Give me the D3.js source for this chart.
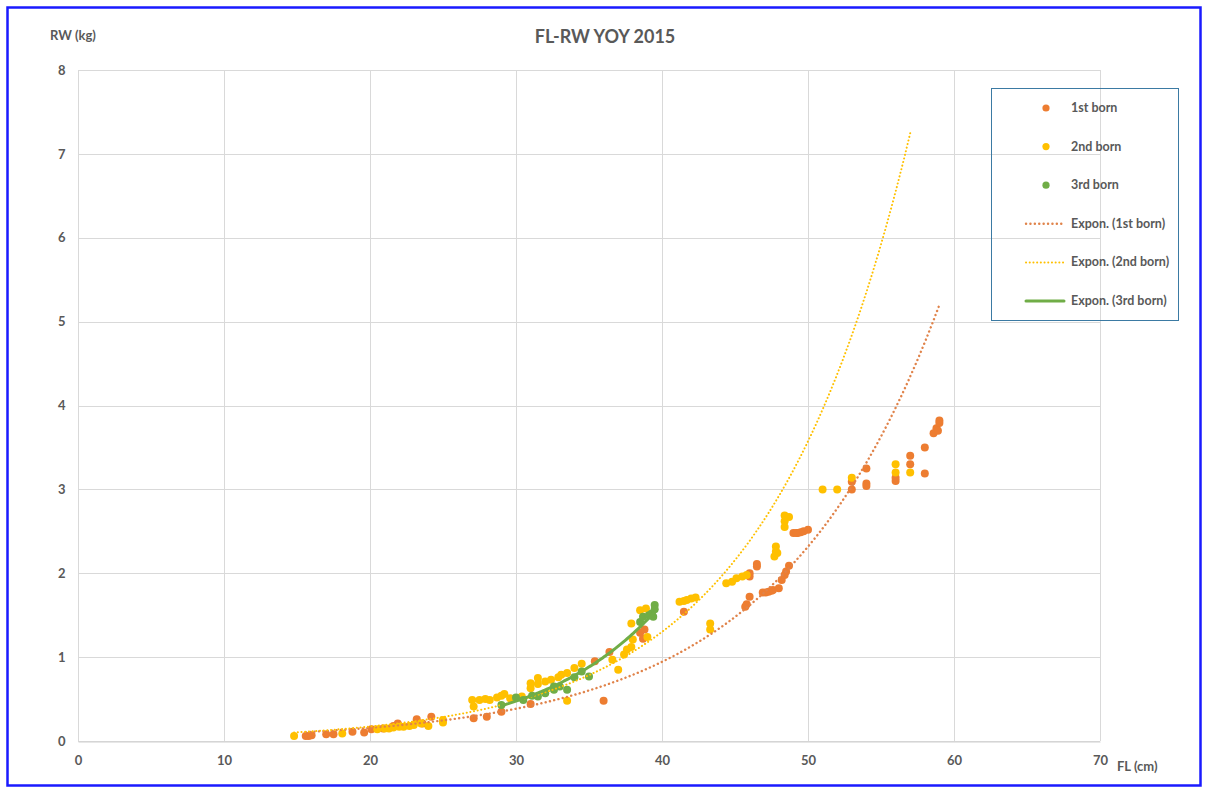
<!DOCTYPE html>
<html>
<head>
<meta charset="utf-8">
<script src="https://cdn.jsdelivr.net/npm/d3@7"></script>
<style>
  body { margin: 0; background: #fff; }
  svg text { font-family: Lato, "Open Sans", sans-serif; fill: #595959; font-weight: bold; }
</style>
</head>
<body>
<div class="js-chart"></div>
<script>
(function() {
  'use strict';

  /* ------------------------------------------------------------ *\
      Data: [FL (cm), RW (kg)]
  \* ------------------------------------------------------------ */

  var firstBorn = [
    [15.6, 0.06], [15.8, 0.06], [16.0, 0.07], [17.0, 0.08], [17.5, 0.08],
    [18.8, 0.11], [19.6, 0.10], [20.1, 0.14], [20.9, 0.15], [21.6, 0.18],
    [21.9, 0.21], [23.2, 0.26], [23.6, 0.21], [24.2, 0.29], [27.1, 0.27],
    [28.0, 0.29], [29.0, 0.35], [31.0, 0.44], [36.0, 0.48], [35.4, 0.95],
    [36.4, 1.06], [38.5, 1.29], [38.7, 1.22], [38.8, 1.33], [41.5, 1.54],
    [45.7, 1.60], [45.8, 1.63], [46.0, 1.72], [46.0, 1.96], [46.0, 2.00],
    [46.5, 2.08], [46.5, 2.11], [46.9, 1.77], [47.1, 1.77], [47.3, 1.78],
    [47.5, 1.79], [47.6, 1.80], [48.0, 1.82], [48.2, 1.92], [48.4, 1.98],
    [48.5, 2.02], [48.7, 2.09], [49.0, 2.48], [49.2, 2.48], [49.3, 2.48],
    [49.5, 2.49], [49.7, 2.50], [50.0, 2.52], [53.0, 3.00], [53.0, 3.09],
    [54.0, 3.25], [54.0, 3.07], [54.0, 3.04], [56.0, 3.10], [56.0, 3.14],
    [57.0, 3.30], [57.0, 3.40], [58.0, 3.19], [58.0, 3.50], [58.6, 3.67],
    [58.8, 3.73], [59.0, 3.79], [59.0, 3.82], [58.9, 3.70]
  ];

  var secondBorn = [
    [14.8, 0.06], [18.1, 0.09], [20.5, 0.14], [21.0, 0.15], [21.3, 0.15],
    [21.6, 0.16], [22.0, 0.17], [22.3, 0.17], [22.7, 0.18], [23.0, 0.19],
    [23.5, 0.21], [24.0, 0.18], [25.0, 0.25], [25.0, 0.22], [27.0, 0.49],
    [27.1, 0.41], [27.5, 0.49], [27.9, 0.50], [28.2, 0.49], [28.7, 0.52],
    [29.0, 0.54], [29.2, 0.56], [29.6, 0.51], [30.4, 0.53], [31.0, 0.69],
    [31.0, 0.63], [31.5, 0.75], [31.5, 0.68], [32.0, 0.71], [32.4, 0.73],
    [32.9, 0.76], [33.1, 0.79], [33.5, 0.81], [34.0, 0.87], [34.5, 0.92],
    [33.5, 0.48], [36.6, 0.97], [37.0, 0.85], [37.4, 1.03], [37.6, 1.09],
    [37.9, 1.12], [38.0, 1.21], [37.9, 1.40], [38.5, 1.56], [38.9, 1.58],
    [39.0, 1.24], [41.2, 1.66], [41.5, 1.67], [41.7, 1.68], [42.0, 1.70],
    [42.3, 1.71], [43.3, 1.40], [43.3, 1.33], [44.4, 1.88], [44.8, 1.90],
    [45.1, 1.94], [45.5, 1.96], [45.8, 1.98], [47.7, 2.20], [47.8, 2.32],
    [47.8, 2.26], [47.9, 2.24], [48.4, 2.69], [48.7, 2.67], [48.4, 2.55],
    [48.4, 2.62], [51.0, 3.00], [52.0, 3.00], [53.0, 3.14], [56.0, 3.30],
    [56.0, 3.20], [57.0, 3.20]
  ];

  var thirdBorn = [
    [29.0, 0.43], [30.0, 0.52], [30.5, 0.49], [31.1, 0.54], [31.5, 0.53],
    [32.0, 0.57], [32.6, 0.65], [32.6, 0.61], [33.0, 0.65], [33.5, 0.61],
    [34.0, 0.76], [34.5, 0.83], [35.0, 0.77], [38.5, 1.42], [38.7, 1.48],
    [39.1, 1.50], [39.3, 1.52], [39.5, 1.62], [39.5, 1.57], [39.4, 1.48]
  ];

  // exponential trendlines RW = a * e^(b * FL), coefficients
  var trendA = [0.0260, 0.0229, 0.01163];
  var trendB = [0.0898, 0.1010, 0.1237];

  var seriesNames = ['1st born', '2nd born', '3rd born'];
  var xTicks = [0, 10, 20, 30, 40, 50, 60, 70];
  var yTicks = [0, 1, 2, 3, 4, 5, 6, 7, 8];

  /* ------------------------------------------------------------ *\
      Layout and styles
  \* ------------------------------------------------------------ */

  var width = 1208;
  var height = 792;
  var plot = { left: 78, right: 1100, top: 70, bottom: 741 };

  var colours = ['#ED7D31', '#FFC000', '#70AD47'];
  var trendStyles = [
    { stroke: '#E0834A', width: 2.4, dash: '0.1 4.3' },
    { stroke: '#FFC000', width: 2, dash: '0.1 3.6' },
    { stroke: '#70AD47', width: 3, dash: null }
  ];

  var svg = d3.select('.js-chart')
    .append('svg')
    .attr('width', width)
    .attr('height', height);

  var x = d3.scaleLinear().domain([0, 70]).range([plot.left, plot.right]);
  var y = d3.scaleLinear().domain([0, 8]).range([plot.bottom, plot.top]);

  /* ------------------------------------------------------------ *\
      Frame, gridlines, axes
  \* ------------------------------------------------------------ */

  svg.append('rect')
    .attr('x', 7.5).attr('y', 7.5)
    .attr('width', width - 15).attr('height', height - 14)
    .attr('fill', 'none')
    .attr('stroke', '#1a1aff')
    .attr('stroke-width', 2.5);

  svg.append('g')
    .selectAll('line')
    .data(yTicks)
    .join('line')
    .attr('x1', plot.left).attr('x2', plot.right)
    .attr('y1', function(d) { return Math.round(y(d)) + 0.5; })
    .attr('y2', function(d) { return Math.round(y(d)) + 0.5; })
    .attr('stroke', '#d9d9d9')
    .attr('stroke-width', 1);

  svg.append('g')
    .selectAll('line')
    .data(xTicks)
    .join('line')
    .attr('y1', plot.top).attr('y2', plot.bottom)
    .attr('x1', function(d) { return Math.round(x(d)) + 0.5; })
    .attr('x2', function(d) { return Math.round(x(d)) + 0.5; })
    .attr('stroke', '#d9d9d9')
    .attr('stroke-width', 1);

  var xAxis = svg.append('g')
    .attr('transform', 'translate(0,' + (plot.bottom + 0.5) + ')')
    .call(d3.axisBottom(x).tickValues(xTicks).tickSize(0).tickPadding(14));
  xAxis.select('.domain').attr('stroke', '#d0d0d0');

  var yAxis = svg.append('g')
    .attr('transform', 'translate(' + (plot.left - 0.5) + ',0)')
    .call(d3.axisLeft(y).tickValues(yTicks).tickSize(0).tickPadding(12));
  yAxis.select('.domain').remove();

  svg.selectAll('.tick text')
    .style('font-family', 'Lato, sans-serif')
    .style('font-size', '13px')
    .style('font-weight', 'bold')
    .attr('fill', '#595959');

  svg.append('text')
    .attr('x', 605).attr('y', 43)
    .attr('text-anchor', 'middle')
    .style('font-size', '18px')
    .text('FL-RW YOY 2015');

  svg.append('text')
    .attr('x', 50).attr('y', 40)
    .style('font-size', '13px')
    .text('RW (kg)');

  svg.append('text')
    .attr('x', 1117).attr('y', 771)
    .style('font-size', '13px')
    .text('FL (cm)');

  /* ------------------------------------------------------------ *\
      Markers, then trendlines on top
  \* ------------------------------------------------------------ */

  var allSeries = [firstBorn, secondBorn, thirdBorn];

  var line = d3.line()
    .x(function(d) { return x(d[0]); })
    .y(function(d) { return y(d[1]); });

  allSeries.forEach(function(points, i) {
    svg.append('g')
      .selectAll('circle')
      .data(points)
      .join('circle')
      .attr('cx', function(d) { return x(d[0]); })
      .attr('cy', function(d) { return y(d[1]); })
      .attr('r', 4)
      .attr('fill', colours[i]);
  });

  allSeries.forEach(function(points, i) {
    var st = trendStyles[i];
    var ext = d3.extent(points, function(p) { return p[0]; });
    var curve = d3.range(0, 101).map(function(k) {
      var fx = ext[0] + (ext[1] - ext[0]) * k / 100;
      return [fx, trendA[i] * Math.exp(trendB[i] * fx)];
    });
    svg.append('path')
      .attr('d', line(curve))
      .attr('fill', 'none')
      .attr('stroke', st.stroke)
      .attr('stroke-width', st.width)
      .attr('stroke-linecap', 'round')
      .attr('stroke-dasharray', st.dash);
  });

  /* ------------------------------------------------------------ *\
      Legend
  \* ------------------------------------------------------------ */

  var legend = svg.append('g');

  legend.append('rect')
    .attr('x', 991.5).attr('y', 88.5)
    .attr('width', 187).attr('height', 232)
    .attr('fill', 'none')
    .attr('stroke', '#3b7aa3')
    .attr('stroke-width', 1);

  var legendRows = seriesNames.map(function(n, i) {
    return { label: n, kind: 'dot', i: i };
  }).concat(seriesNames.map(function(n, i) {
    return { label: 'Expon. (' + n + ')', kind: 'trend', i: i };
  }));

  var rowY = d3.scaleLinear().domain([0, 5]).range([108, 301]);

  legendRows.forEach(function(r, k) {
    var cy = rowY(k);
    if (r.kind === 'dot') {
      legend.append('circle')
        .attr('cx', 1046).attr('cy', cy)
        .attr('r', 3.6)
        .attr('fill', colours[r.i]);
    } else {
      var st = trendStyles[r.i];
      legend.append('line')
        .attr('x1', 1026).attr('x2', 1064)
        .attr('y1', cy).attr('y2', cy)
        .attr('stroke', st.stroke)
        .attr('stroke-width', st.width)
        .attr('stroke-linecap', 'round')
        .attr('stroke-dasharray', st.dash);
    }
    legend.append('text')
      .attr('x', 1071).attr('y', cy + 4)
      .style('font-size', '12.5px')
      .text(r.label);
  });
})();
</script>
</body>
</html>
